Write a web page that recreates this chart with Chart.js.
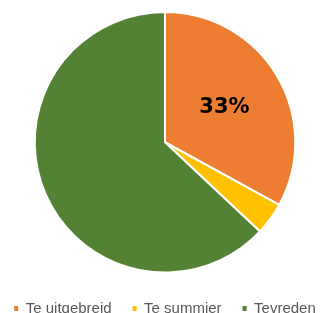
<!DOCTYPE html>
<html>
<head>
<meta charset="utf-8">
<script src="https://cdn.jsdelivr.net/npm/chart.js@4/dist/chart.umd.min.js"></script>
<style>
  html, body { margin: 0; padding: 0; background: #ffffff; overflow: hidden; width: 320px; height: 313px; }
  #wrap { position: absolute; left: -19px; top: 0; width: 370px; height: 326px; }
</style>
</head>
<body>
<div id="wrap"><canvas id="c" width="370" height="326"></canvas></div>
<script>
const categories = ['Te uitgebreid', 'Te summier', 'Tevreden'];
const values = [33, 4, 63];
const shownLabels = ['33%', '', ''];
const colors = ['#ED7D31', '#FFC000', '#548235'];

const sliceLabelPlugin = {
  id: 'sliceLabels',
  afterDatasetsDraw(chart) {
    const ctx = chart.ctx;
    const meta = chart.getDatasetMeta(0);
    meta.data.forEach((arc, i) => {
      const txt = shownLabels[i];
      if (!txt) return;
      const p = arc.getProps(['x', 'y', 'startAngle', 'endAngle', 'outerRadius'], true);
      const mid = (p.startAngle + p.endAngle) / 2;
      const r = p.outerRadius * 0.53;
      const x = p.x + Math.cos(mid) * r;
      const y = p.y + Math.sin(mid) * r;
      ctx.save();
      ctx.font = 'bold 21px "DejaVu Sans"';
      ctx.fillStyle = '#000000';
      ctx.textAlign = 'center';
      ctx.textBaseline = 'middle';
      ctx.fillText(txt, x, y);
      ctx.restore();
    });
  }
};

const baseGen = Chart.overrides.pie.plugins.legend.labels.generateLabels;

new Chart(document.getElementById('c'), {
  type: 'pie',
  data: {
    labels: categories,
    datasets: [{
      data: values,
      backgroundColor: colors,
      borderColor: '#ffffff',
      borderWidth: 2
    }]
  },
  options: {
    responsive: false,
    animation: false,
    devicePixelRatio: 1,
    layout: { padding: { top: 11, bottom: 0, left: 0, right: 2 } },
    plugins: {
      tooltip: { enabled: false },
      legend: {
        display: true,
        position: 'bottom',
        title: { display: true, text: '', font: { size: 4.5, lineHeight: 1 }, padding: 1 },
        labels: {
          boxWidth: 4,
          boxHeight: 5,
          padding: 21,
          color: '#595959',
          font: { family: '"Liberation Sans", Arial, sans-serif', size: 15 },
          generateLabels(chart) {
            return baseGen(chart).map(item => Object.assign(item, { lineWidth: 0, strokeStyle: item.fillStyle }));
          }
        }
      }
    }
  },
  plugins: [sliceLabelPlugin]
});
</script>
</body>
</html>
